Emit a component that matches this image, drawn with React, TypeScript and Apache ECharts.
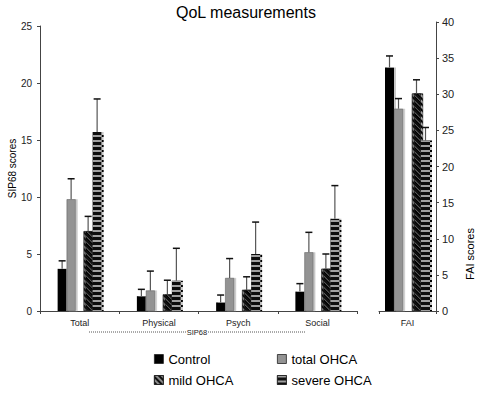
import React, { useEffect, useRef } from 'react';
import * as echarts from 'echarts';

const FONT = '"Liberation Sans", Arial, Helvetica, sans-serif';

const titleText = 'QoL measurements';
const sipCategories = ['Total', 'Physical', 'Psych', 'Social'];
const faiCategories = ['FAI'];
const groupNames = ['Control', 'total OHCA', 'mild OHCA', 'severe OHCA'];

// SIP68 scores (means and error-bar heights), per group, per category
const controlSip = [3.7, 1.3, 0.75, 1.7];
const controlSipErr = [0.7, 0.6, 0.65, 0.7];
const totalSip = [9.8, 1.8, 2.9, 5.15];
const totalSipErr = [1.8, 1.7, 1.7, 1.75];
const mildSip = [7.0, 1.45, 1.85, 3.7];
const mildSipErr = [1.3, 1.25, 1.15, 1.3];
const severeSip = [15.7, 2.65, 5.0, 8.1];
const severeSipErr = [2.9, 2.85, 2.8, 2.9];

// FAI scores, per group
const faiMeans = [33.7, 28.0, 30.1, 23.6];
const faiErrs = [1.6, 1.4, 1.9, 1.8];

const sipMeans = [controlSip, totalSip, mildSip, severeSip];
const sipErrs = [controlSipErr, totalSipErr, mildSipErr, severeSipErr];

const sipTicks = { min: 0, max: 25, interval: 5 };
const faiTicks = { min: 0, max: 40, interval: 5 };

const BAR_W = 9;
const SIP_GAP = 8;
const FAI_GAP = 9;

const shadow = { shadowColor: '#c8c8c8', shadowOffsetX: 2, shadowOffsetY: 0, shadowBlur: 0 };

const itemStyles: any[] = [
  { color: '#000000', ...shadow },
  { color: '#939393', borderColor: '#555', borderWidth: 0.5, ...shadow },
  {
    color: '#8a8a8a',
    borderColor: '#222',
    borderWidth: 0.5,
    ...shadow,
    decal: {
      symbol: 'rect',
      symbolSize: 1,
      dashArrayX: [1, 0],
      dashArrayY: [2, 2],
      rotation: Math.PI / 4,
      color: '#111',
    },
  },
  {
    color: '#111111',
    ...shadow,
    decal: {
      symbol: 'rect',
      symbolSize: 1,
      dashArrayX: [1, 0],
      dashArrayY: [1.5, 2.5],
      rotation: 0,
      color: '#a0a0a0',
    },
  },
];

function barSeries(gridIdx: number, means: number[][], gapW: number) {
  const out: any[] = [];
  for (let s = 0; s < 4; s++) {
    if (s === 2) {
      out.push({
        type: 'bar',
        name: '__gap' + gridIdx,
        xAxisIndex: gridIdx,
        yAxisIndex: gridIdx,
        data: means[0].map(() => null),
        barWidth: gapW,
        barGap: '0%',
        silent: true,
      });
    }
    out.push({
      type: 'bar',
      name: groupNames[s],
      xAxisIndex: gridIdx,
      yAxisIndex: gridIdx,
      data: means[s],
      barWidth: BAR_W,
      barGap: '0%',
      itemStyle: itemStyles[s],
    });
  }
  return out;
}

function errSeries(gridIdx: number, means: number[][], errs: number[][], gapW: number) {
  const data: number[][] = [];
  for (let c = 0; c < means[0].length; c++) {
    for (let s = 0; s < 4; s++) data.push([c, s, means[s][c], errs[s][c]]);
  }
  return {
    type: 'custom',
    name: '__err' + gridIdx,
    xAxisIndex: gridIdx,
    yAxisIndex: gridIdx,
    encode: { x: 0, y: 2 },
    data,
    z: 5,
    silent: true,
    renderItem: (_params: any, api: any) => {
      const c = api.value(0);
      const s = api.value(1);
      const m = api.value(2);
      const e = api.value(3);
      const base = api.coord([c, 0]);
      const top = api.coord([c, m]);
      const cap = api.coord([c, m + e]);
      const groupW = 4 * BAR_W + gapW;
      const left = base[0] - groupW / 2;
      const x = left + s * BAR_W + (s >= 2 ? gapW : 0) + BAR_W / 2;
      return {
        type: 'group',
        children: [
          { type: 'line', shape: { x1: x, y1: top[1], x2: x, y2: cap[1] }, style: { stroke: '#555', lineWidth: 1.2 } },
          { type: 'line', shape: { x1: x - 3.5, y1: cap[1], x2: x + 3.5, y2: cap[1] }, style: { stroke: '#111', lineWidth: 1.5 } },
        ],
      };
    },
  };
}

const axisLine = { show: true, lineStyle: { color: '#444', width: 1 } };
const axisTick = { show: true, length: 3, lineStyle: { color: '#444', width: 1 } };

const legendCommon = {
  orient: 'vertical',
  top: 352,
  itemWidth: 9,
  itemHeight: 9,
  itemGap: 7,
  padding: 0,
  icon: 'rect',
  textStyle: { fontSize: 13, color: '#000', lineHeight: 14, fontFamily: FONT },
  itemStyle: { borderColor: '#222', borderWidth: 0.8, shadowColor: 'rgba(0,0,0,0)', shadowOffsetX: 0 },
};

const option: any = {
  animation: false,
  backgroundColor: '#fff',
  textStyle: { fontFamily: FONT },
  title: {
    text: titleText,
    left: 176,
    top: 4,
    padding: 0,
    textStyle: { fontSize: 16, fontWeight: 'normal', color: '#000', fontFamily: FONT },
  },
  legend: [
    { ...legendCommon, left: 154, data: [groupNames[0], groupNames[2]] },
    { ...legendCommon, left: 277, data: [groupNames[1], groupNames[3]] },
  ],
  grid: [
    { left: 40, top: 26, width: 317, height: 285, containLabel: false, outerBoundsMode: 'none' },
    { left: 379, top: 22, width: 57, height: 289, containLabel: false, outerBoundsMode: 'none' },
  ],
  xAxis: [
    {
      type: 'category',
      gridIndex: 0,
      data: sipCategories,
      axisLine,
      axisTick,
      axisLabel: { fontSize: 9, color: '#222', margin: 7, fontFamily: FONT },
    },
    {
      type: 'category',
      gridIndex: 1,
      data: faiCategories,
      axisLine,
      axisTick,
      axisLabel: { fontSize: 9, color: '#222', margin: 7, fontFamily: FONT },
    },
  ],
  yAxis: [
    {
      type: 'value',
      gridIndex: 0,
      ...sipTicks,
      axisLine,
      axisTick,
      splitLine: { show: false },
      axisLabel: { fontSize: 10, color: '#222', margin: 8, fontFamily: FONT },
      name: 'SIP68 scores',
      nameLocation: 'middle',
      nameGap: 23,
      nameMoveOverlap: false,
      nameTextStyle: { fontSize: 10, color: '#000', fontFamily: FONT },
    },
    {
      type: 'value',
      gridIndex: 1,
      position: 'right',
      ...faiTicks,
      axisLine,
      axisTick,
      splitLine: { show: false },
      axisLabel: { fontSize: 11, color: '#222', margin: 6, fontFamily: FONT },
    },
  ],
  graphic: [
    { type: 'line', shape: { x1: 89, y1: 332, x2: 186, y2: 332 }, style: { stroke: '#555', lineWidth: 1, lineDash: [1, 1] } },
    { type: 'line', shape: { x1: 208, y1: 332, x2: 306, y2: 332 }, style: { stroke: '#555', lineWidth: 1, lineDash: [1, 1] } },
    { type: 'text', x: 197, y: 332, style: { text: 'SIP68', fontSize: 7.5, fill: '#222', align: 'center', verticalAlign: 'middle', fontFamily: FONT } },
    { type: 'text', x: 470, y: 254, rotation: Math.PI / 2, style: { text: 'FAI scores', fontSize: 11, fill: '#000', align: 'center', verticalAlign: 'middle', fontFamily: FONT } },
  ],
  series: [
    ...barSeries(0, sipMeans, SIP_GAP),
    ...barSeries(1, faiMeans.map((v) => [v]), FAI_GAP),
    errSeries(0, sipMeans, sipErrs, SIP_GAP),
    errSeries(1, faiMeans.map((v) => [v]), faiErrs.map((v) => [v]), FAI_GAP),
  ],
};

export default function App() {
  const ref = useRef<HTMLDivElement>(null);
  useEffect(() => {
    const chart = echarts.init(ref.current as HTMLDivElement, null, { renderer: 'svg' });
    chart.setOption(option);
    return () => chart.dispose();
  }, []);
  return <div ref={ref} style={{ position: 'absolute', left: 0, top: 0, width: 479, height: 395 }} />;
}
